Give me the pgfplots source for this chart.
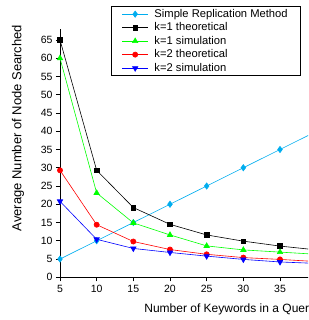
\documentclass[border=0pt]{standalone}
\usepackage{fontspec}
\setmainfont{Liberation Sans}
\usepackage{pgfplots}
\pgfplotsset{compat=1.18}
\begin{document}
\begin{tikzpicture}
\path[use as bounding box, clip] (0,0) rectangle (308pt,320pt);
\begin{axis}[
  at={(60pt,42.7pt)}, anchor=south west,
  scale only axis, width=330pt, height=248.3pt,
  xmin=5, xmax=50, ymin=0, ymax=68,
  axis x line*=bottom, axis y line*=left,
  xtick={5,10,...,35}, ytick={0,5,...,65},
  tick align=outside, major tick length=4pt,
  tick style={black, line width=0.8pt},
  axis line style={line width=0.8pt},
  tick label style={font=\fontsize{10.5}{12}\selectfont},
  /pgf/number format/assume math mode=true,
  xlabel={Number of Keywords in a Query},
  ylabel={Average Number of Node Searched},
  every axis x label/.style={at={(axis description cs:0.245,-0.1277)},anchor=west,font=\fontsize{12}{14}\selectfont},
  every axis y label/.style={at={(axis description cs:-0.1273,0.601)},rotate=90,anchor=center,font=\fontsize{13}{15}\selectfont},
  legend style={at={(axis description cs:0.1545,1.0927)}, anchor=north west,
    font=\fontsize{11.2}{13}\selectfont, draw=black, line width=0.8pt,
    inner xsep=10.5pt, inner ysep=1pt, row sep=0pt, column sep=4pt,
    cells={anchor=west, inner xsep=0pt, inner ysep=1.6pt, text height=8pt, text depth=2.4pt}},
  legend image code/.code={\draw[mark repeat=2,mark phase=2] plot coordinates {(0pt,0pt) (13pt,0pt) (26pt,0pt)};},
  every axis plot/.append style={line width=0.6pt, mark size=2.6pt},
]
\addplot[cyan, mark=diamond*, mark options={fill=cyan, scale=1.2}] coordinates {(5,5) (10,10) (15,15) (20,20) (25,25) (30,30) (35,35) (40,40)};
\addlegendentry{Simple Replication Method}
\addplot[black, mark=square*, mark options={fill=black, scale=0.9}] coordinates {(5,65) (10,29.3) (15,19.1) (20,14.5) (25,11.6) (30,9.9) (35,8.55) (40,7.5)};
\addlegendentry{k=1 theoretical}
\addplot[green, mark=triangle*, mark options={fill=green, scale=1.2}] coordinates {(5,60) (10,23.1) (15,14.9) (20,11.6) (25,8.6) (30,7.5) (35,6.9) (40,6.3)};
\addlegendentry{k=1 simulation}
\addplot[red, mark=*, mark options={fill=red}] coordinates {(5,29.3) (10,14.4) (15,9.8) (20,7.6) (25,6.3) (30,5.4) (35,4.9) (40,4.3)};
\addlegendentry{k=2 theoretical}
\addplot[blue, mark=triangle*, mark options={fill=blue, rotate=180, scale=1.2}] coordinates {(5,20.8) (10,10.4) (15,7.9) (20,6.8) (25,5.8) (30,4.9) (35,4.2) (40,3.8)};
\addlegendentry{k=2 simulation}
\end{axis}
\end{tikzpicture}
\end{document}
